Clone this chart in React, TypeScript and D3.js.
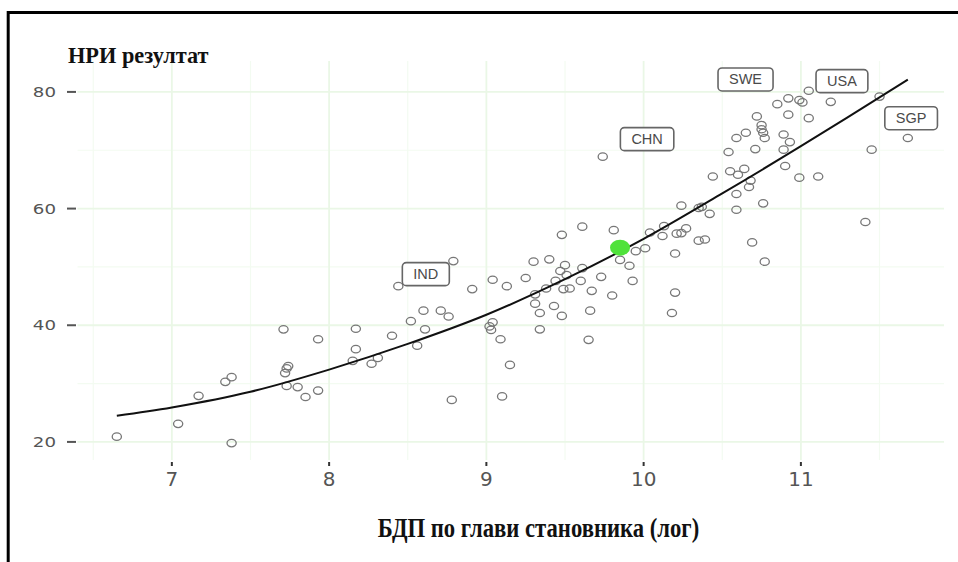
import React, { useEffect, useRef } from "react";
import * as d3 from "d3";

// ---- data (log GDP per capita vs NRI score) ----
const gdpX = [
  6.65, 7.04, 7.17, 7.34, 7.38, 7.38, 7.71, 7.74, 7.73, 7.72, 7.73, 7.80, 7.85, 7.93, 7.93,
  8.17, 8.17, 8.15, 8.27, 8.31, 8.40, 8.44, 8.52, 8.60, 8.71, 8.76, 8.61, 8.56, 8.78, 8.79,
  8.91, 9.04, 9.13, 9.25, 9.30, 9.40, 9.48, 9.61, 9.81, 9.50, 9.47, 9.61, 9.51, 9.44, 9.60,
  9.49, 9.53, 9.67, 9.73, 9.80, 9.85, 9.91, 9.93, 9.38, 9.31, 9.31, 9.43, 9.34, 9.48, 9.66,
  9.34, 9.65, 9.04, 9.02, 9.03, 9.09, 9.15, 9.10, 9.95, 10.01, 10.20, 10.20, 10.18, 9.74,
  10.04, 10.13, 10.12, 10.21, 10.24, 10.27, 10.24, 10.35, 10.37, 10.42, 10.35, 10.39, 10.69,
  10.77, 10.59, 10.76, 10.59, 10.44, 10.55, 10.60, 10.64, 10.68, 10.67, 10.90, 10.99, 11.11,
  10.54, 10.71, 10.89, 10.93, 10.89, 10.59, 10.65, 10.75, 10.75, 10.76, 10.77, 10.72, 10.92,
  11.05, 10.85, 10.92, 10.99, 11.01, 11.05, 11.19, 11.50, 11.68, 11.45, 11.41,
];
const nriY = [
  20.9, 23.1, 27.9, 30.3, 31.1, 19.8, 39.3, 33.0, 32.6, 31.8, 29.6, 29.4, 27.7, 28.8, 37.6,
  39.4, 35.9, 33.9, 33.4, 34.4, 38.2, 46.7, 40.7, 42.5, 42.5, 41.5, 39.3, 36.5, 27.2, 51.0,
  46.2, 47.8, 46.7, 48.1, 50.9, 51.3, 55.5, 56.9, 56.3, 50.3, 49.3, 49.8, 48.6, 47.6, 47.6,
  46.2, 46.3, 45.9, 48.3, 45.1, 51.2, 50.2, 47.6, 46.3, 45.3, 43.7, 43.3, 42.1, 41.6, 42.5,
  39.3, 37.5, 40.5, 39.8, 39.2, 37.6, 33.2, 27.8, 52.7, 53.2, 52.3, 45.6, 42.1, 68.9,
  55.9, 57.0, 55.3, 55.7, 55.8, 56.6, 60.5, 60.1, 60.3, 59.1, 54.5, 54.7, 54.2,
  50.9, 59.8, 60.9, 62.5, 65.5, 66.4, 65.8, 66.8, 64.8, 63.7, 67.3, 65.3, 65.5,
  69.7, 70.2, 70.1, 71.4, 72.7, 72.1, 73.0, 74.3, 73.6, 73.0, 72.1, 75.8, 76.1,
  75.5, 77.9, 78.9, 78.6, 78.2, 80.2, 78.3, 79.2, 72.1, 70.1, 57.7,
];

const highlightX = [9.85];
const highlightY = [53.3];

const fitX = [6.65, 7, 7.5, 8, 8.5, 9, 9.5, 10, 10.5, 11, 11.68];
const fitY = [24.5, 25.9, 28.6, 32.4, 36.8, 41.8, 47.9, 54.8, 62.6, 70.7, 82.1];

const labelNames = ["IND", "CHN", "SWE", "USA", "SGP"];
const labelX = [8.615, 10.022, 10.648, 11.261, 11.701];
const labelY = [48.76, 71.9, 82.14, 81.85, 75.49];

const xTicks = [7, 8, 9, 10, 11];
const xMinor = [6.5, 7.5, 8.5, 9.5, 10.5, 11.5];
const yTicks = [20, 40, 60, 80];
const yMinor = [30, 50, 70];

const yTitle = "НРИ резултат";
const xTitle = "БДП по глави становника (лог)";

export default function App() {
  const ref = useRef<SVGSVGElement | null>(null);

  useEffect(() => {
    const svg = d3.select(ref.current);
    svg.selectAll("*").remove();

    const x = d3.scaleLinear().domain([6.4, 11.91]).range([77.5, 944]);
    const y = d3.scaleLinear().domain([16.9, 85.3]).range([460, 61]);
    const [x0, x1] = x.range();
    const [y0, y1] = y.range();

    svg.append("rect").attr("width", 958).attr("height", 562).attr("fill", "#fff");

    // grid
    const g = svg.append("g");
    g.selectAll(".vmin").data(xMinor).join("line")
      .attr("x1", (d) => x(d)).attr("x2", (d) => x(d)).attr("y1", y1).attr("y2", y0)
      .attr("stroke", "#f3fbf1").attr("stroke-width", 1.2);
    g.selectAll(".hmin").data(yMinor).join("line")
      .attr("x1", x0).attr("x2", x1).attr("y1", (d) => y(d)).attr("y2", (d) => y(d))
      .attr("stroke", "#f3fbf1").attr("stroke-width", 1.2);
    g.selectAll(".vmaj").data(xTicks).join("line")
      .attr("x1", (d) => x(d)).attr("x2", (d) => x(d)).attr("y1", y1).attr("y2", y0)
      .attr("stroke", "#eaf7e6").attr("stroke-width", 1.8);
    g.selectAll(".hmaj").data(yTicks).join("line")
      .attr("x1", x0).attr("x2", x1).attr("y1", (d) => y(d)).attr("y2", (d) => y(d))
      .attr("stroke", "#eaf7e6").attr("stroke-width", 1.8);

    // axes ticks + labels
    const ax = svg.append("g");
    ax.selectAll(".xt").data(xTicks).join("line")
      .attr("x1", (d) => x(d)).attr("x2", (d) => x(d)).attr("y1", y0 + 2).attr("y2", y0 + 6)
      .attr("stroke", "#333").attr("stroke-width", 2);
    ax.selectAll(".xl").data(xTicks).join("text")
      .attr("x", (d) => x(d)).attr("y", 486).attr("text-anchor", "middle")
      .attr("font-family", "DejaVu Sans").attr("font-size", 20).attr("fill", "#555")
      .text((d) => String(d));
    ax.selectAll(".yt").data(yTicks).join("line")
      .attr("x1", 67).attr("x2", 76).attr("y1", (d) => y(d)).attr("y2", (d) => y(d))
      .attr("stroke", "#555").attr("stroke-width", 2);
    ax.selectAll(".yl").data(yTicks).join("text")
      .attr("transform", (d) => `translate(56,${y(d) + 5}) scale(1.3,1)`)
      .attr("text-anchor", "end")
      .attr("font-family", "DejaVu Sans").attr("font-size", 14).attr("fill", "#555")
      .text((d) => String(d));

    // points
    const pts = d3.range(gdpX.length);
    svg.append("g").selectAll("ellipse").data(pts).join("ellipse")
      .attr("cx", (i) => x(gdpX[i])).attr("cy", (i) => y(nriY[i]))
      .attr("rx", 4.6).attr("ry", 3.7)
      .attr("fill", "none").attr("stroke", "#777").attr("stroke-width", 1.3);

    // fit line
    const line = d3.line<number>()
      .x((i) => x(fitX[i])).y((i) => y(fitY[i]))
      .curve(d3.curveCatmullRom.alpha(0.5));
    svg.append("path").attr("d", line(d3.range(fitX.length)) || "")
      .attr("fill", "none").attr("stroke", "#111").attr("stroke-width", 2);

    // highlight
    svg.append("g").selectAll("ellipse").data(d3.range(highlightX.length)).join("ellipse")
      .attr("cx", (i) => x(highlightX[i])).attr("cy", (i) => y(highlightY[i]))
      .attr("rx", 10).attr("ry", 8).attr("fill", "#4fe23a");

    // labels
    const lg = svg.append("g");
    labelNames.forEach((name, i) => {
      const cx = x(labelX[i]);
      const cy = y(labelY[i]);
      const grp = lg.append("g");
      const rect = grp.append("rect");
      const t = grp.append("text")
        .attr("x", cx).attr("y", cy + 5).attr("text-anchor", "middle")
        .attr("font-family", "Liberation Sans, Arial").attr("font-size", 14.5)
        .attr("fill", "#4a4a4a").text(name);
      const w = (t.node() as SVGTextElement).getComputedTextLength();
      rect.attr("x", cx - w / 2 - 11).attr("y", cy - 11.5)
        .attr("width", w + 22).attr("height", 23).attr("rx", 4)
        .attr("fill", "#fff").attr("stroke", "#666").attr("stroke-width", 1.6);
    });

    // titles
    svg.append("text")
      .attr("transform", "translate(68,63) scale(0.93,1)")
      .attr("font-family", "Liberation Serif").attr("font-weight", "bold")
      .attr("font-size", 24).attr("fill", "#111").text(yTitle);
    svg.append("text")
      .attr("transform", "translate(538.5,537) scale(0.81,1)")
      .attr("text-anchor", "middle")
      .attr("font-family", "Liberation Serif").attr("font-weight", "bold")
      .attr("font-size", 28).attr("fill", "#111").text(xTitle);

    // frame
    svg.append("line").attr("x1", 7).attr("x2", 958).attr("y1", 12.5).attr("y2", 12.5)
      .attr("stroke", "#000").attr("stroke-width", 3);
    svg.append("line").attr("x1", 8.2).attr("x2", 8.2).attr("y1", 11).attr("y2", 562)
      .attr("stroke", "#000").attr("stroke-width", 3);
  }, []);

  return (
    <svg
      ref={ref}
      width={958}
      height={562}
      style={{ position: "absolute", left: 0, top: 0, display: "block" }}
    />
  );
}
